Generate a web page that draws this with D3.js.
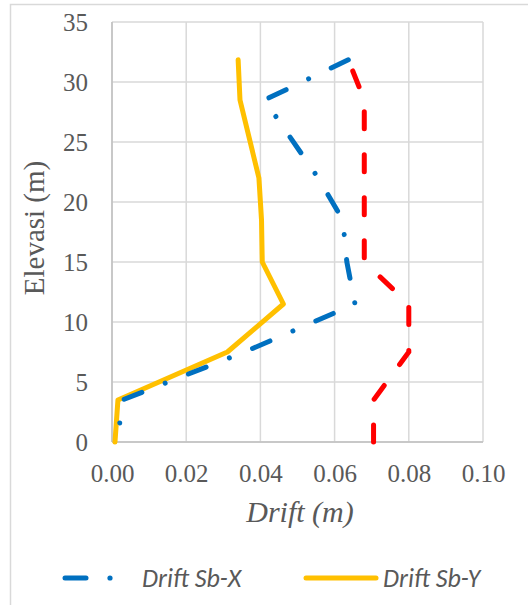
<!DOCTYPE html>
<html><head><meta charset="utf-8">
<script src="https://cdn.jsdelivr.net/npm/d3@7"></script>
<style>body{margin:0;background:#fff}svg{display:block}</style>
</head><body>
<svg id="c" width="528" height="605"></svg>
<script>
const elevation = [0, 3.5, 7.5, 11.5, 15, 18.5, 22, 28.5, 31.85];
const driftRed = [0.0705, 0.0705, 0.080, 0.080, 0.068, 0.068, 0.068, 0.068, 0.0637];
const driftSbX = [0.0015, 0.0028, 0.0357, 0.0655, 0.0633, 0.0622, 0.0556, 0.0411, 0.0637];
const driftSbY = [0.0008, 0.0016, 0.0311, 0.0462, 0.0405, 0.0403, 0.0396, 0.0345, 0.034];
const xTicks = [0, 0.02, 0.04, 0.06, 0.08, 0.10];
const yTicks = [0, 5, 10, 15, 20, 25, 30, 35];
const legendLabels = ["Drift Sb-X", "Drift Sb-Y"];

const svg = d3.select("#c");
const grey = "#595959";
const SERIF = "Liberation Serif";
svg.append("rect").attr("x",10.5).attr("y",4.5).attr("width",540).attr("height",620)
  .attr("fill","#fff").attr("stroke","#d9d9d9").attr("stroke-width",1.5);

const x = d3.scaleLinear().domain([0,0.1]).range([112,483]);
const y = d3.scaleLinear().domain([0,35]).range([442,22]);

const g = svg.append("g");
g.selectAll("line.v").data(xTicks).join("line")
  .attr("x1",d=>x(d)).attr("x2",d=>x(d)).attr("y1",y(0)).attr("y2",y(35))
  .attr("stroke","#d9d9d9").attr("stroke-width",1.5);
g.selectAll("line.h").data(yTicks).join("line")
  .attr("y1",d=>y(d)).attr("y2",d=>y(d)).attr("x1",x(0)).attr("x2",x(0.1))
  .attr("stroke","#d9d9d9").attr("stroke-width",1.5);
g.append("line").attr("x1",x(0)).attr("x2",x(0)).attr("y1",y(0)).attr("y2",y(35)).attr("stroke","#bfbfbf").attr("stroke-width",1.5);
g.append("line").attr("x1",x(0)).attr("x2",x(0.1)).attr("y1",y(0)).attr("y2",y(0)).attr("stroke","#bfbfbf").attr("stroke-width",1.5);

const xAxis = d3.axisBottom(x).tickValues(xTicks).tickFormat(d3.format(".2f")).tickSize(0).tickPadding(22);
const yAxis = d3.axisLeft(y).tickValues(yTicks).tickFormat(d3.format("d")).tickSize(0).tickPadding(24);
const ax = svg.append("g").attr("transform",`translate(0,${y(0)})`).call(xAxis);
const ay = svg.append("g").attr("transform",`translate(${x(0)},0)`).call(yAxis);
[ax,ay].forEach(a=>{a.select(".domain").remove();
  a.attr("font-family",SERIF).attr("font-size",25);
  a.selectAll("text").style("font-family",SERIF).style("font-size","25px").attr("fill",grey);});
ax.selectAll("text").attr("dy","0.71em");

svg.append("text").attr("x",300).attr("y",522).attr("text-anchor","middle")
  .style("font-family",SERIF).style("font-style","italic").style("font-size","30px").attr("fill",grey).text("Drift (m)");
svg.append("text").attr("transform","translate(44,228) rotate(-90)").attr("text-anchor","middle")
  .style("font-family",SERIF).style("font-size","29px").attr("fill",grey).text("Elevasi (m)");

const idx = d3.range(elevation.length);
const line = (vals, order) => d3.line().x(i=>x(vals[i])).y(i=>y(elevation[i]))(order);
const plot = svg.append("g");
plot.append("path").attr("d",line(driftSbY, idx)).attr("fill","none").attr("stroke","#FFC000")
  .attr("stroke-width",5).attr("stroke-linejoin","round").attr("stroke-linecap","round");
plot.append("path").attr("d",line(driftSbX, idx.slice().reverse())).attr("fill","none").attr("stroke","#0070C0")
  .attr("stroke-width",5).attr("stroke-linecap","round").attr("stroke-dasharray","19,25,0.01,25");
plot.append("path").attr("d",line(driftRed, idx)).attr("fill","none").attr("stroke","#FF0000")
  .attr("stroke-width",5).attr("stroke-linecap","round").attr("stroke-dasharray","17,26");

const lg = svg.append("g");
lg.append("line").attr("x1",65).attr("x2",86).attr("y1",578).attr("y2",578).attr("stroke","#0070C0").attr("stroke-width",5).attr("stroke-linecap","round");
lg.append("circle").attr("cx",110).attr("cy",578).attr("r",2.6).attr("fill","#0070C0");
lg.append("line").attr("x1",306).attr("x2",376).attr("y1",578).attr("y2",578).attr("stroke","#FFC000").attr("stroke-width",5).attr("stroke-linecap","round");
lg.selectAll("text").data(legendLabels).join("text")
  .attr("x",(d,i)=>i?383:142).attr("y",587).style("font-family","Carlito").style("font-style","italic")
  .style("font-size","26px").attr("fill",grey).text(d=>d);
</script>
</body></html>
